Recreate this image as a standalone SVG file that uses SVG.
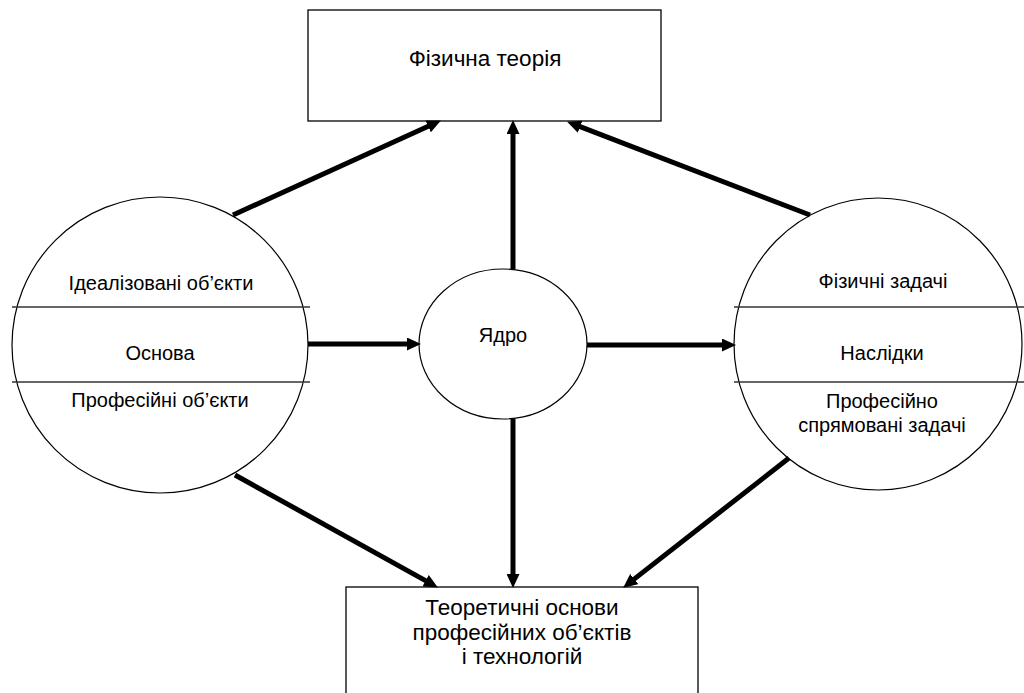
<svg xmlns="http://www.w3.org/2000/svg" width="1024" height="693" viewBox="0 0 1024 693">
<style>
.box{fill:#fff;stroke:#000;stroke-width:1.3}
.circ{fill:#fff;stroke:#000;stroke-width:1.2}
.div{stroke:#333;stroke-width:1.3}
.arr{stroke:#000;stroke-width:5;fill:none;marker-end:url(#ah)}
text{font-family:"Liberation Sans",Arial,sans-serif;font-size:20px;fill:#000;text-anchor:middle}
.big{font-size:22.5px}
</style>
<defs>
<marker id="ah" viewBox="0 0 14 13" refX="5" refY="6.5" markerWidth="14" markerHeight="13" markerUnits="userSpaceOnUse" orient="auto">
<path d="M0,0 L14,6.5 L0,13 z" fill="#000"/>
</marker>
</defs>
<rect width="1024" height="693" fill="#fff"/>
<g id="theory">
<rect class="box" x="308" y="10" width="353" height="111"/>
<text class="big" x="485" y="66">Фізична теорія</text>
</g>
<g id="basis">
<ellipse class="circ" cx="160" cy="345" rx="148" ry="148"/>
<line class="div" x1="12" y1="307" x2="310" y2="307"/>
<line class="div" x1="12" y1="382" x2="310" y2="382"/>
<text x="161" y="290">Ідеалізовані об’єкти</text>
<text x="160" y="360">Основа</text>
<text x="160" y="407">Професійні об’єкти</text>
</g>
<g id="core">
<ellipse class="circ" cx="503" cy="344" rx="84" ry="75"/>
<text x="503" y="342">Ядро</text>
</g>
<g id="consequences">
<ellipse class="circ" cx="878" cy="344" rx="144" ry="146"/>
<line class="div" x1="734" y1="307" x2="1024" y2="307"/>
<line class="div" x1="734" y1="382" x2="1024" y2="382"/>
<text x="883" y="288">Фізичні задачі</text>
<text x="882" y="360">Наслідки</text>
<text x="882" y="408">Професійно</text>
<text x="882" y="432">спрямовані задачі</text>
</g>
<g id="foundations">
<rect class="box" x="346" y="587" width="352" height="130"/>
<text class="big" x="522" y="615">Теоретичні основи</text>
<text class="big" x="522" y="640">професійних об’єктів</text>
<text class="big" x="522" y="664">і технологій</text>
</g>
<g id="connectors">
<line class="arr" x1="233" y1="215" x2="432.7" y2="124.3"/>
<line class="arr" x1="513" y1="269" x2="513" y2="129"/>
<line class="arr" x1="810" y1="215" x2="575.5" y2="124.9"/>
<line class="arr" x1="308" y1="344" x2="412" y2="344"/>
<line class="arr" x1="587" y1="345" x2="727" y2="345"/>
<line class="arr" x1="513" y1="419" x2="513" y2="579"/>
<line class="arr" x1="235" y1="475" x2="430" y2="583.1"/>
<line class="arr" x1="789" y1="458" x2="630.3" y2="582.1"/>
</g>
</svg>
